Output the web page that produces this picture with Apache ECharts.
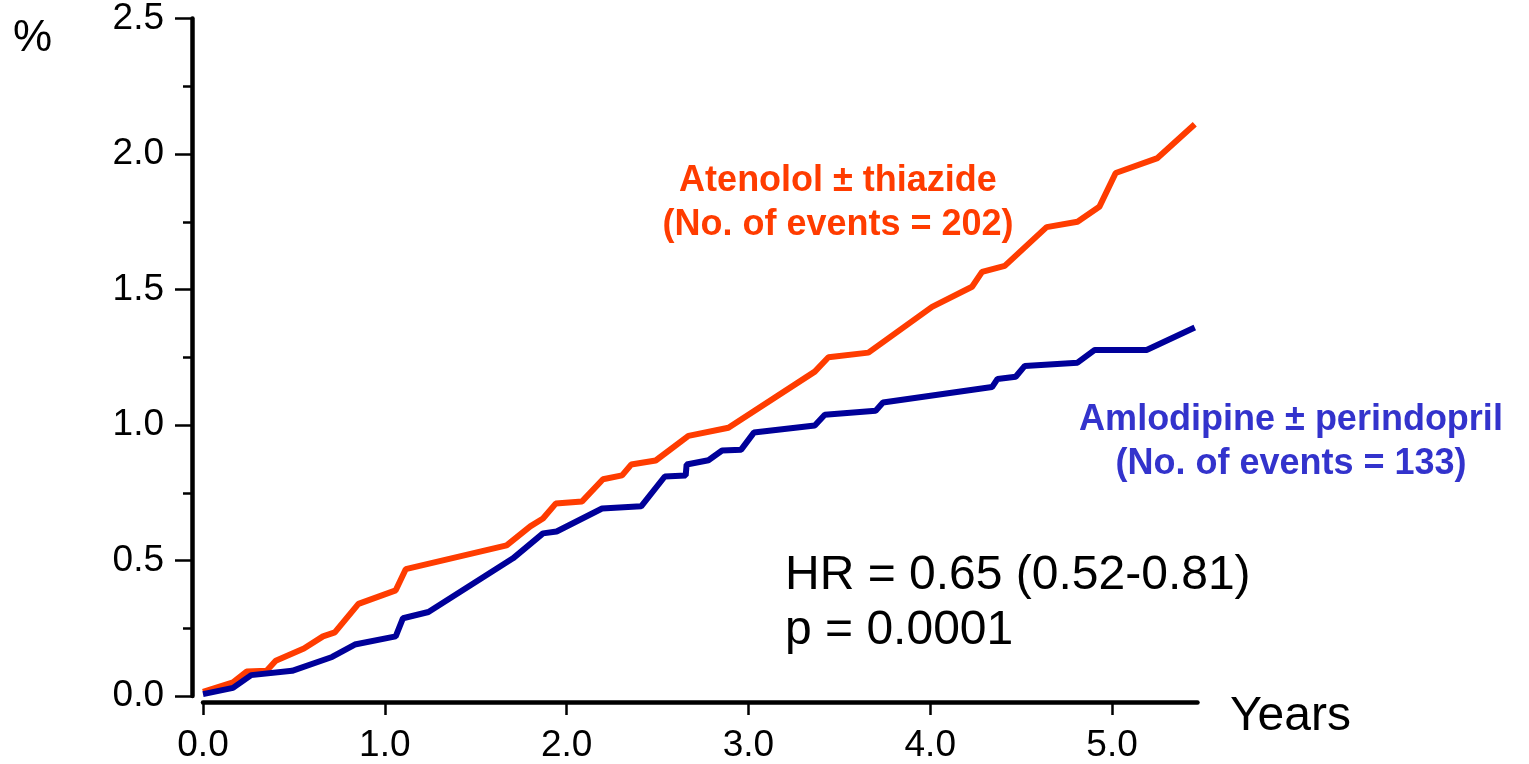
<!DOCTYPE html>
<html>
<head>
<meta charset="utf-8">
<script src="https://cdn.jsdelivr.net/npm/echarts@6/dist/echarts.min.js"></script>
<style>
  html, body { margin: 0; padding: 0; background: #fff; }
  #main { width: 1529px; height: 764px; }
</style>
</head>
<body>
<div id="main"></div>
<script>
// cumulative incidence (%) by years of follow-up
var atenololX = [0, 0.165, 0.24, 0.35, 0.40, 0.555, 0.66, 0.725, 0.855, 1.06, 1.115, 1.67, 1.80, 1.87, 1.94, 2.085, 2.20, 2.305, 2.355, 2.49, 2.67, 2.89, 3.365, 3.44, 3.66, 4.01, 4.23, 4.285, 4.41, 4.64, 4.81, 4.93, 5.02, 5.25, 5.455];
var atenololY = [0.015, 0.05, 0.09, 0.093, 0.13, 0.175, 0.22, 0.235, 0.34, 0.39, 0.468, 0.556, 0.626, 0.655, 0.71, 0.718, 0.80, 0.814, 0.854, 0.869, 0.96, 0.99, 1.197, 1.25, 1.267, 1.436, 1.51, 1.565, 1.587, 1.73, 1.75, 1.805, 1.93, 1.985, 2.11];

var amlodipineX = [0, 0.165, 0.265, 0.49, 0.71, 0.835, 1.06, 1.10, 1.24, 1.705, 1.87, 1.945, 2.195, 2.41, 2.54, 2.655, 2.66, 2.78, 2.855, 2.96, 3.03, 3.365, 3.42, 3.70, 3.74, 4.34, 4.37, 4.47, 4.52, 4.81, 4.905, 5.19, 5.455];
var amlodipineY = [0.007, 0.03, 0.077, 0.093, 0.144, 0.19, 0.22, 0.287, 0.31, 0.508, 0.60, 0.607, 0.692, 0.70, 0.81, 0.814, 0.854, 0.87, 0.906, 0.909, 0.972, 0.998, 1.038, 1.053, 1.083, 1.14, 1.17, 1.178, 1.218, 1.23, 1.277, 1.277, 1.36];

var xTicks = [0, 1, 2, 3, 4, 5];

var FONT = 'Liberation Sans, Arial, sans-serif';

function pairs(xs, ys) {
  return xs.map(function (x, i) { return [x, ys[i]]; });
}

var chart = echarts.init(document.getElementById('main'));

chart.setOption({
  animation: false,
  backgroundColor: '#fff',
  grid: {
    left: 203,
    right: 331.5,
    top: 18,
    bottom: 67
  },
  xAxis: {
    type: 'value',
    min: 0,
    max: 5.47,
    offset: 6,
    splitLine: { show: false },
    axisLine: { onZero: false, lineStyle: { color: '#000', width: 4.5 } },
    axisTick: {
      customValues: xTicks,
      length: 13,
      lineStyle: { color: '#000', width: 2.5 }
    },
    axisLabel: {
      customValues: xTicks,
      fontFamily: FONT,
      fontSize: 37,
      color: '#000',
      margin: 25,
      formatter: function (v) { return v.toFixed(1); }
    }
  },
  yAxis: {
    type: 'value',
    min: 0,
    max: 2.5,
    interval: 0.5,
    offset: 11,
    splitLine: { show: false },
    axisLine: { onZero: false, lineStyle: { color: '#000', width: 4.5 } },
    axisTick: {
      length: 17,
      lineStyle: { color: '#000', width: 2.5 }
    },
    minorTick: {
      show: true,
      splitNumber: 2,
      length: 9,
      lineStyle: { color: '#000', width: 2.5 }
    },
    minorSplitLine: { show: false },
    axisLabel: {
      fontFamily: FONT,
      fontSize: 37,
      color: '#000',
      margin: 28,
      formatter: function (v) { return v.toFixed(1); }
    }
  },
  graphic: [
    {
      type: 'text', left: 13, top: 17,
      style: { text: '%', font: '44px ' + FONT, fill: '#000' }
    },
    {
      type: 'text', x: 1230, y: 717,
      style: { text: 'Years', font: '48px ' + FONT, fill: '#000', verticalAlign: 'middle' }
    },
    {
      type: 'text', x: 838, y: 203,
      style: {
        text: 'Atenolol \u00b1 thiazide\n(No. of events = 202)',
        font: 'bold 36px ' + FONT, fill: '#FF3C00',
        align: 'center', verticalAlign: 'middle', lineHeight: 44
      }
    },
    {
      type: 'text', x: 1291, y: 442,
      style: {
        text: 'Amlodipine \u00b1 perindopril\n(No. of events = 133)',
        font: 'bold 36px ' + FONT, fill: '#3333CC',
        align: 'center', verticalAlign: 'middle', lineHeight: 44
      }
    },
    {
      type: 'text', x: 785, y: 548,
      style: {
        text: 'HR = 0.65 (0.52-0.81)\np = 0.0001',
        font: '48px ' + FONT, fill: '#000',
        align: 'left', verticalAlign: 'top', lineHeight: 55
      }
    }
  ],
  series: [
    {
      name: 'Atenolol \u00b1 thiazide',
      type: 'line',
      data: pairs(atenololX, atenololY),
      symbol: 'none',
      lineStyle: { color: '#FF3C00', width: 6 },
      z: 3
    },
    {
      name: 'Amlodipine \u00b1 perindopril',
      type: 'line',
      data: pairs(amlodipineX, amlodipineY),
      symbol: 'none',
      lineStyle: { color: '#000099', width: 6 },
      z: 4
    }
  ]
});
</script>
</body>
</html>
